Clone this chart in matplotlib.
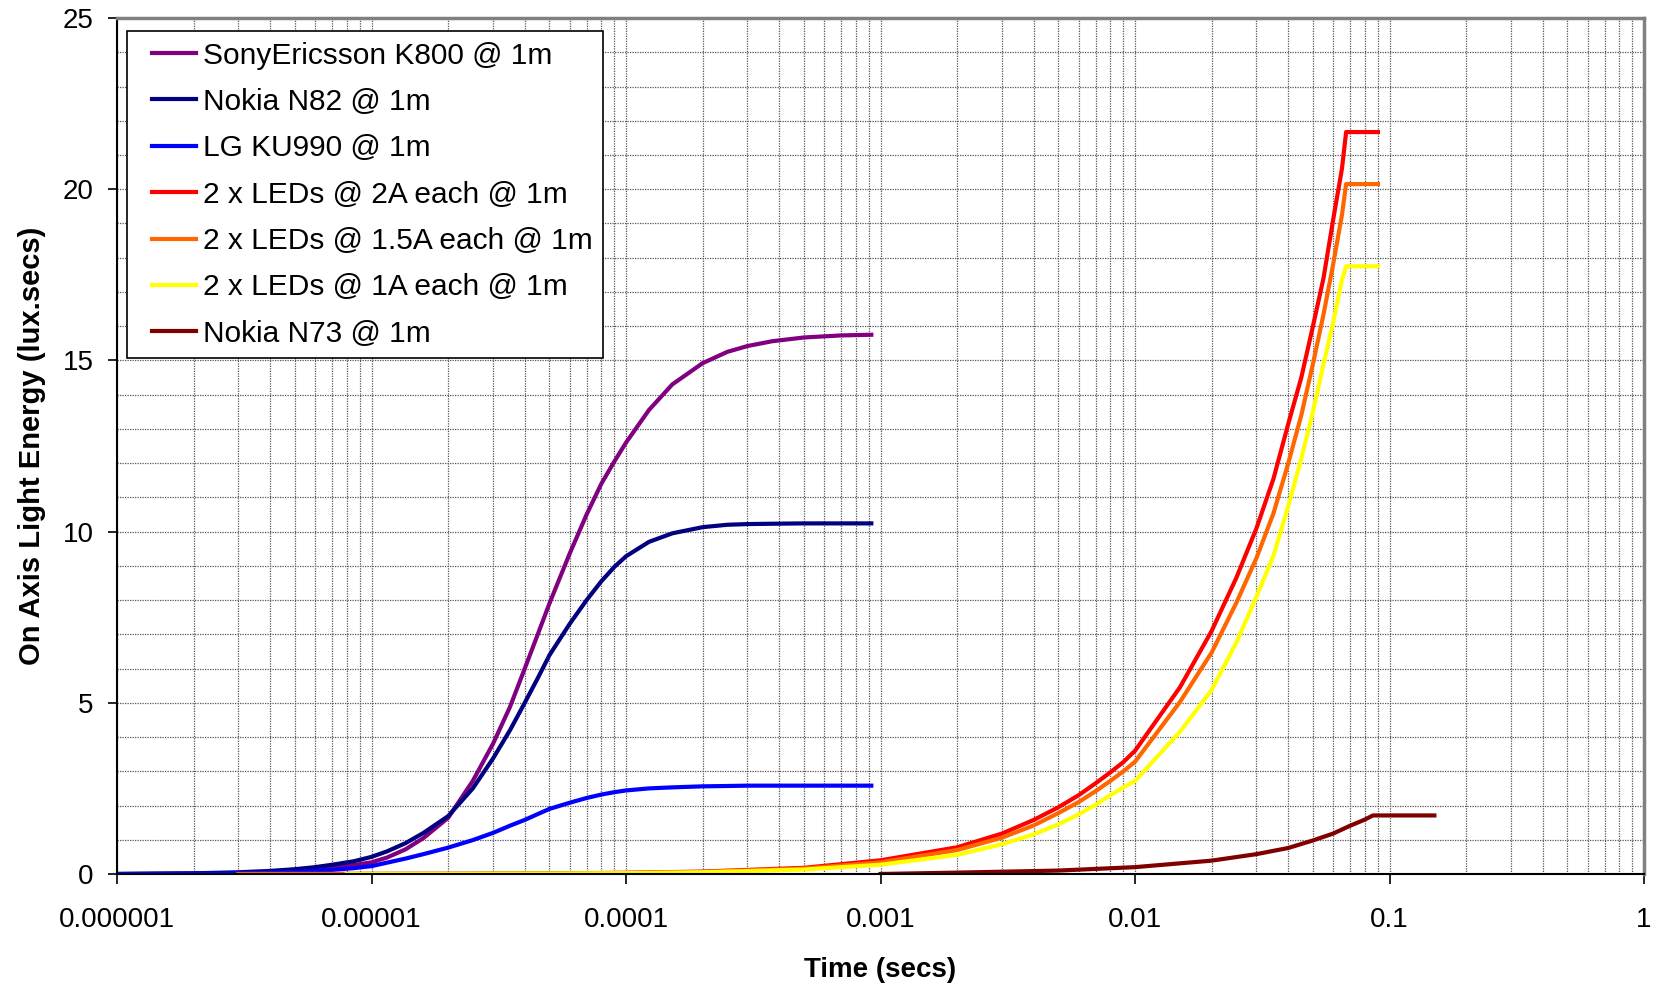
import numpy as np
import matplotlib.pyplot as plt
from matplotlib.lines import Line2D
from matplotlib.legend_handler import HandlerLine2D

#%% Data
phone_t = [1e-6, 2e-6, 3e-6, 4e-6, 5e-6, 6e-6, 7e-6, 8.5e-6, 1e-5, 1.15e-5, 1.36e-5, 1.6e-5,
           2e-5, 2.5e-5, 3e-5, 3.5e-5, 4e-5, 4.5e-5, 5e-5, 6e-5, 7e-5, 8e-5, 9e-5, 1e-4,
           1.23e-4, 1.52e-4, 2e-4, 2.5e-4, 3e-4, 3.75e-4, 5e-4, 7e-4, 9.2e-4]
k800 = [0, 0.01, 0.03, 0.06, 0.1, 0.14, 0.19, 0.26, 0.34, 0.48, 0.72, 1.05,
        1.64, 2.72, 3.8, 4.88, 6.0, 7.0, 7.9, 9.35, 10.5, 11.4, 12.05, 12.6,
        13.55, 14.3, 14.92, 15.25, 15.42, 15.56, 15.67, 15.73, 15.75]
n82 = [0, 0.02, 0.05, 0.09, 0.14, 0.2, 0.27, 0.37, 0.5, 0.66, 0.9, 1.2,
       1.69, 2.5, 3.37, 4.2, 5.0, 5.72, 6.39, 7.3, 8.0, 8.55, 8.97, 9.28,
       9.7, 9.95, 10.13, 10.2, 10.22, 10.23, 10.24, 10.24, 10.24]
ku990 = [0, 0.01, 0.02, 0.04, 0.06, 0.09, 0.12, 0.17, 0.23, 0.33, 0.45, 0.58,
         0.77, 0.99, 1.2, 1.41, 1.58, 1.75, 1.9, 2.08, 2.22, 2.32, 2.39, 2.44,
         2.5, 2.53, 2.56, 2.57, 2.58, 2.58, 2.58, 2.58, 2.58]

led_t = [3e-6, 8e-6, 1e-5, 2e-5, 5e-5, 1e-4, 2e-4, 5e-4, 1e-3, 2e-3, 3e-3, 4e-3, 5e-3,
         6e-3, 7e-3, 8e-3, 9e-3, 1e-2, 1.5e-2, 2e-2, 2.5e-2, 3e-2, 3.5e-2, 4e-2, 4.5e-2,
         5e-2, 5.5e-2, 6e-2, 6.5e-2, 6.75e-2, 9e-2]
led_2a = [0, 0.002, 0.003, 0.007, 0.017, 0.035, 0.07, 0.18, 0.4, 0.78, 1.18, 1.58, 1.95,
          2.3, 2.65, 2.97, 3.27, 3.6, 5.45, 7.1, 8.65, 10.1, 11.55, 13.15, 14.5,
          16.0, 17.4, 19.1, 20.6, 21.67, 21.67]
led_15a = [0, 0.002, 0.003, 0.006, 0.015, 0.03, 0.06, 0.16, 0.34, 0.7, 1.06, 1.42, 1.78,
           2.1, 2.42, 2.72, 3.0, 3.28, 5.02, 6.47, 7.92, 9.23, 10.54, 12.0, 13.4,
           14.9, 16.34, 17.8, 19.25, 20.15, 20.15]
led_1a = [np.nan, 0.001, 0.002, 0.005, 0.012, 0.025, 0.05, 0.13, 0.27, 0.56, 0.87, 1.16, 1.45,
          1.74, 2.02, 2.3, 2.53, 2.72, 4.15, 5.38, 6.76, 8.1, 9.3, 10.75, 12.13,
          13.5, 14.89, 16.1, 17.36, 17.75, 17.75]

n73_t = [1e-3, 2e-3, 5e-3, 1e-2, 2e-2, 3e-2, 4e-2, 5e-2, 6e-2, 7e-2, 8e-2, 8.6e-2, 0.15]
n73 = [0.0, 0.04, 0.1, 0.2, 0.39, 0.58, 0.76, 0.98, 1.18, 1.41, 1.59, 1.71, 1.71]

xtick_vals = [1e-6, 1e-5, 1e-4, 1e-3, 1e-2, 1e-1, 1]
xtick_labels = ['0.000001', '0.00001', '0.0001', '0.001', '0.01', '0.1', '1']

#%% Plot
plt.rcParams['font.family'] = ['Liberation Sans', 'DejaVu Sans']

fig = plt.figure(figsize=(16.55, 9.86), dpi=100)
ax = fig.add_axes([0.0707, 0.1136, 0.9227, 0.8681])

lw = 3
ax.plot(phone_t, k800, color='#800080', lw=lw, label='SonyEricsson K800 @ 1m')
ax.plot(phone_t, n82, color='#000080', lw=lw, label='Nokia N82 @ 1m')
ax.plot(phone_t, ku990, color='#0000FF', lw=lw, label='LG KU990 @ 1m')
ax.plot(led_t, led_2a, color='#FF0000', lw=lw, label='2 x LEDs @ 2A each @ 1m')
ax.plot(led_t, led_15a, color='#FF6600', lw=lw, label='2 x LEDs @ 1.5A each @ 1m')
ax.plot(led_t, led_1a, color='#FFFF00', lw=lw, label='2 x LEDs @ 1A each @ 1m')
ax.plot(n73_t, n73, color='#800000', lw=lw, label='Nokia N73 @ 1m')

ax.set_xscale('log')
ax.set_xlim(1e-6, 1)
ax.set_ylim(0, 25)

# grid: every decade sub-step on x, every unit on y
ax.set_xticks(xtick_vals)
ax.set_xticklabels(xtick_labels)
ax.set_xticks([m * 10.0 ** e for e in range(-6, 0) for m in range(2, 10)], minor=True)
ax.set_yticks(range(0, 26, 5))
ax.set_yticks(range(0, 26), minor=True)
ax.grid(True, which='both', color='#555555', linestyle=(0, (1, 1)), linewidth=0.9)
ax.set_axisbelow(True)

ax.tick_params(axis='x', which='major', direction='out', length=7, width=1.2, pad=17,
               labelsize=20, color='black')
ax.tick_params(axis='y', which='major', direction='out', length=6.5, width=1.2, pad=10.5,
               labelsize=20, color='black')
ax.tick_params(which='minor', length=0)

for s in ['left', 'bottom']:
    ax.spines[s].set_color('black')
    ax.spines[s].set_linewidth(1.5)
for s in ['top', 'right']:
    ax.spines[s].set_color('#808080')
    ax.spines[s].set_linewidth(2.5)

ax.set_xlabel('Time (secs)', fontsize=20, fontweight='bold', labelpad=17)
ax.set_ylabel('On Axis Light Energy (lux.secs)', fontsize=21, fontweight='bold', labelpad=12)

leg = ax.legend(loc='upper left', bbox_to_anchor=(0.0066, 0.9848), fontsize=21.5,
                frameon=True, fancybox=False, shadow=False, framealpha=1,
                edgecolor='black', numpoints=2, handlelength=2.47, handletextpad=-0.27,
                labelspacing=0.615, borderpad=0.35, borderaxespad=0,
                handler_map={Line2D: HandlerLine2D(marker_pad=0.5)})
leg.get_frame().set_linewidth(1.2)

plt.savefig('out.png', dpi=100)
